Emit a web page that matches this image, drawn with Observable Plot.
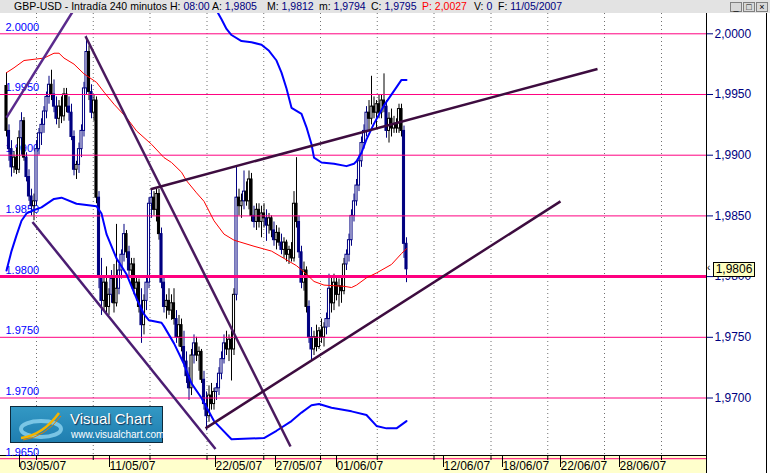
<!DOCTYPE html>
<html><head><meta charset="utf-8">
<script src="https://cdn.jsdelivr.net/npm/d3@7"></script>
<script src="https://cdn.jsdelivr.net/npm/@observablehq/plot@0.6"></script>
<style>
body{margin:0;background:#fff;}
#wrap{position:relative;width:770px;height:473px;overflow:hidden;background:#fff;font-family:"Liberation Sans",Arial,sans-serif;}
#hdr{position:absolute;left:0;top:0;width:770px;height:13px;background:#e3e3e3;font-size:10.5px;line-height:12px;white-space:pre;}
#hdr span{position:absolute;top:0;}
#hdr i{font-style:normal;color:#000080;}
#hdr .r{color:#ff0000;}
.btn{position:absolute;top:2px;width:10px;height:8px;border:1px solid #808080;background:#d8d8d8;font-size:9px;line-height:8px;text-align:center;color:#000;}
#strip{position:absolute;left:0;top:455px;width:706px;height:18px;background:#ffffcc;border-top:1px solid #000;box-sizing:border-box;}
#vline1{position:absolute;left:706px;top:13px;width:1px;height:460px;background:#000;}
#vline2{position:absolute;left:766px;top:13px;width:1px;height:460px;background:#000;}
#chart{position:absolute;left:0;top:13px;}
#pbox{position:absolute;left:713px;width:40px;height:13px;background:#ffffc0;border:1px solid #000;font-size:12px;line-height:13px;text-align:center;color:#000;}
#parrow{position:absolute;left:707px;font-size:10px;line-height:10px;color:#000;}
#logo{position:absolute;left:10px;top:406px;width:151px;height:35px;border:1px solid #0d2a3c;background:linear-gradient(#3398c4,#1f7eb0);color:#fff;}
#logo .a{position:absolute;left:59px;top:4px;font-size:15px;line-height:16px;text-shadow:1px 1px 1px #135;}
#logo .b{position:absolute;left:60px;top:22px;font-size:10px;line-height:11px;}
</style>
</head><body>
<div id="wrap">
  <div id="hdr">
    <span style="left:14px">GBP-USD - Intradía 240 minutos</span>
    <span style="left:170px">H: <i>08:00</i></span>
    <span style="left:212px">A: <i>1,9805</i></span>
    <span style="left:267px">M: <i>1,9812</i></span>
    <span style="left:319px">m: <i>1,9794</i></span>
    <span style="left:371px">C: <i>1,9795</i></span>
    <span class="r" style="left:422px">P: 2,0027</span>
    <span style="left:474px">V: <i>0</i></span>
    <span style="left:498px">F: <i>11/05/2007</i></span>
    <div class="btn" style="left:730px">_</div><div class="btn" style="left:743px">□</div><div class="btn" style="left:756px">×</div>
  </div>
  <div id="strip"></div>
  <div id="chart"></div>
  <div id="vline1"></div><div id="vline2"></div>
  <div id="logo">
    <svg width="58" height="35" style="position:absolute;left:2px;top:0">
      <ellipse cx="28" cy="22" rx="20" ry="8" fill="none" stroke="#8fd4f0" stroke-width="4" opacity="0.8"/>
      <path d="M8 31 Q30 28 46 6" fill="none" stroke="#f4b400" stroke-width="2.5"/>
      <path d="M10 33 Q32 30 48 9" fill="none" stroke="#e08000" stroke-width="1"/>
    </svg>
    <div class="a">Visual Chart</div>
    <div class="b">www.visualchart.com</div>
  </div>
</div>
<script>
// ---- data ----
const open = [1.9957,1.9920,1.9905,1.9890,1.9898,1.9888,1.9914,1.9928,1.9898,1.9882,1.9866,1.9858,1.9862,1.9905,1.9918,1.9925,1.9936,1.9948,1.9958,1.9950,1.9940,1.9930,1.9940,1.9932,1.9950,1.9940,1.9935,1.9915,1.9888,1.9892,1.9905,1.9920,1.9955,1.9985,1.9952,1.9935,1.9945,1.9865,1.9800,1.9780,1.9795,1.9775,1.9785,1.9798,1.9778,1.9790,1.9805,1.9818,1.9835,1.9820,1.9805,1.9810,1.9790,1.9795,1.9775,1.9760,1.9780,1.9795,1.9860,1.9865,1.9855,1.9868,1.9835,1.9795,1.9775,1.9780,1.9772,1.9778,1.9765,1.9750,1.9760,1.9742,1.9730,1.9718,1.9708,1.9735,1.9745,1.9735,1.9738,1.9715,1.9695,1.9685,1.9702,1.9695,1.9705,1.9708,1.9720,1.9732,1.9745,1.9740,1.9748,1.9740,1.9785,1.9865,1.9858,1.9862,1.9870,1.9862,1.9880,1.9850,1.9845,1.9855,1.9845,1.9852,1.9848,1.9842,1.9848,1.9838,1.9830,1.9836,1.9828,1.9822,1.9828,1.9818,1.9822,1.9815,1.9860,1.9845,1.9820,1.9795,1.9805,1.9775,1.9750,1.9740,1.9750,1.9742,1.9755,1.9750,1.9758,1.9765,1.9790,1.9778,1.9795,1.9785,1.9792,1.9788,1.9810,1.9818,1.9830,1.9850,1.9862,1.9875,1.9895,1.9910,1.9920,1.9935,1.9930,1.9940,1.9935,1.9942,1.9935,1.9945,1.9940,1.9920,1.9930,1.9922,1.9925,1.9922,1.9938,1.9920,1.9827];
const high = [1.9968,1.9925,1.9912,1.9903,1.9906,1.9920,1.9935,1.9931,1.9902,1.9888,1.9872,1.9868,1.9912,1.9922,1.9930,1.9940,1.9952,1.9965,1.9970,1.9962,1.9948,1.9945,1.9948,1.9955,1.9955,1.9948,1.9942,1.9920,1.9895,1.9910,1.9925,1.9960,1.9998,1.9990,1.9958,1.9950,1.9948,1.9870,1.9815,1.9800,1.9808,1.9790,1.9805,1.9810,1.9843,1.9810,1.9822,1.9843,1.9838,1.9825,1.9815,1.9815,1.9800,1.9798,1.9790,1.9785,1.9800,1.9865,1.9872,1.9870,1.9872,1.9872,1.9840,1.9800,1.9785,1.9790,1.9785,1.9790,1.9772,1.9768,1.9765,1.9755,1.9738,1.9725,1.9740,1.9752,1.9750,1.9742,1.9740,1.9722,1.9705,1.9710,1.9712,1.9708,1.9712,1.9725,1.9738,1.9752,1.9755,1.9752,1.9755,1.9790,1.9891,1.9872,1.9868,1.9887,1.9878,1.9887,1.9885,1.9858,1.9860,1.9860,1.9858,1.9860,1.9855,1.9852,1.9850,1.9845,1.9842,1.9840,1.9835,1.9832,1.9830,1.9825,1.9828,1.9870,1.9898,1.9850,1.9825,1.9812,1.9808,1.9780,1.9758,1.9755,1.9760,1.9758,1.9765,1.9762,1.9770,1.9802,1.9800,1.9802,1.9800,1.9798,1.9800,1.9815,1.9822,1.9835,1.9855,1.9868,1.9880,1.9900,1.9915,1.9925,1.9940,1.9945,1.9965,1.9948,1.9945,1.9950,1.9950,1.9967,1.9945,1.9935,1.9938,1.9932,1.9930,1.9942,1.9942,1.9924,1.9832];
const low = [1.9915,1.9895,1.9882,1.9885,1.9884,1.9885,1.9900,1.9895,1.9878,1.9862,1.9850,1.9846,1.9858,1.9900,1.9908,1.9918,1.9930,1.9942,1.9945,1.9935,1.9925,1.9922,1.9926,1.9928,1.9935,1.9928,1.9912,1.9883,1.9880,1.9885,1.9898,1.9915,1.9950,1.9945,1.9930,1.9928,1.9860,1.9790,1.9768,1.9772,1.9768,1.9768,1.9778,1.9770,1.9775,1.9785,1.9798,1.9812,1.9815,1.9800,1.9790,1.9785,1.9780,1.9770,1.9745,1.9752,1.9772,1.9790,1.9848,1.9850,1.9845,1.9830,1.9790,1.9770,1.9765,1.9768,1.9764,1.9760,1.9745,1.9742,1.9738,1.9725,1.9712,1.9698,1.9702,1.9728,1.9730,1.9722,1.9712,1.9690,1.9673,1.9680,1.9690,1.9690,1.9698,1.9702,1.9715,1.9728,1.9735,1.9730,1.9714,1.9735,1.9780,1.9850,1.9848,1.9855,1.9858,1.9855,1.9845,1.9840,1.9838,1.9840,1.9832,1.9840,1.9829,1.9835,1.9832,1.9825,1.9822,1.9825,1.9818,1.9815,1.9812,1.9810,1.9812,1.9812,1.9840,1.9815,1.9790,1.9788,1.9770,1.9745,1.9731,1.9735,1.9738,1.9740,1.9745,1.9742,1.9752,1.9758,1.9770,1.9772,1.9780,1.9775,1.9778,1.9785,1.9805,1.9812,1.9825,1.9845,1.9858,1.9870,1.9890,1.9905,1.9915,1.9920,1.9925,1.9930,1.9922,1.9930,1.9930,1.9935,1.9914,1.9910,1.9915,1.9918,1.9918,1.9918,1.9915,1.9815,1.9795];
const close = [1.9920,1.9905,1.9890,1.9898,1.9888,1.9914,1.9928,1.9898,1.9882,1.9866,1.9858,1.9862,1.9905,1.9918,1.9925,1.9936,1.9948,1.9958,1.9950,1.9940,1.9930,1.9940,1.9932,1.9950,1.9940,1.9935,1.9915,1.9888,1.9892,1.9905,1.9920,1.9955,1.9985,1.9952,1.9935,1.9945,1.9865,1.9800,1.9780,1.9795,1.9775,1.9785,1.9798,1.9778,1.9790,1.9805,1.9818,1.9835,1.9820,1.9805,1.9810,1.9790,1.9795,1.9775,1.9760,1.9780,1.9795,1.9860,1.9865,1.9855,1.9868,1.9835,1.9795,1.9775,1.9780,1.9772,1.9778,1.9765,1.9750,1.9760,1.9742,1.9730,1.9718,1.9708,1.9735,1.9745,1.9735,1.9738,1.9715,1.9695,1.9685,1.9702,1.9695,1.9705,1.9708,1.9720,1.9732,1.9745,1.9740,1.9748,1.9740,1.9785,1.9865,1.9858,1.9862,1.9870,1.9862,1.9880,1.9850,1.9845,1.9855,1.9845,1.9852,1.9848,1.9842,1.9848,1.9838,1.9830,1.9836,1.9828,1.9822,1.9828,1.9818,1.9822,1.9815,1.9860,1.9845,1.9820,1.9795,1.9805,1.9775,1.9750,1.9740,1.9750,1.9742,1.9755,1.9750,1.9758,1.9765,1.9790,1.9778,1.9795,1.9785,1.9792,1.9788,1.9810,1.9818,1.9830,1.9850,1.9862,1.9875,1.9895,1.9910,1.9920,1.9935,1.9930,1.9940,1.9935,1.9942,1.9935,1.9945,1.9940,1.9920,1.9930,1.9922,1.9925,1.9922,1.9938,1.9920,1.9827,1.9806];

const upperBars = [83,86,88,90,94,98,102,105,108,110,112,114,118,120,122,123,126,131,136,139,140,142,144,147,151,155,158,160];
const upperVals = [2.0023,2.0012,2.0004,1.9999,1.9994,1.9993,1.9991,1.9986,1.9978,1.9968,1.9955,1.9939,1.9934,1.9923,1.9909,1.9898,1.9894,1.9893,1.9891,1.9893,1.9895,1.9902,1.9913,1.9926,1.9941,1.9953,1.9962,1.9962];
const lowerBars = [0,2,4,6,8,10,14,19,22,28,36,38,40,44,48,52,55,57,62,63,67,71,74,78,83,90,103,108,114,118,122,125,130,138,144,148,152,156,160];
const lowerVals = [1.9805,1.9821,1.9834,1.9846,1.9852,1.9854,1.9857,1.9864,1.9865,1.9860,1.9858,1.9852,1.9835,1.9815,1.9802,1.9782,1.9769,1.9764,1.9762,1.9759,1.9745,1.9728,1.9712,1.9700,1.9681,1.9666,1.9667,1.9673,1.9681,1.9688,1.9694,1.9695,1.9692,1.9689,1.9686,1.9677,1.9675,1.9675,1.9681];
const maBars = [0,3,7,11,15,19,21,23,27,31,36,39,43,48,52,58,63,66,70,72,76,79,83,87,91,99,106,111,116,120,123,127,135,138,140,144,148,154,158,160];
const maVals = [1.9968,1.9972,1.9978,1.9979,1.9980,1.9984,1.9984,1.9980,1.9975,1.9967,1.9960,1.9952,1.9942,1.9931,1.9920,1.9909,1.9898,1.9894,1.9886,1.9879,1.9869,1.9862,1.9846,1.9835,1.9830,1.9825,1.9821,1.9815,1.9809,1.9802,1.9796,1.9793,1.9792,1.9791,1.9793,1.9799,1.9803,1.9810,1.9819,1.9823];

const trendFromBar = [0, 31.6, 10.4, 57.6, 79.6];
const trendFromPrice = [1.9931, 1.9998, 1.9845, 1.9872, 1.9675];
const trendToBar = [26.4, 113.6, 83.6, 236.4, 221.6];
const trendToPrice = [2.0018, 1.9660, 1.9658, 1.9971, 1.9862];
const trendColors = ["#5a2a8c", "#4a1a5e", "#4b1d72", "#3d0c3f", "#3d0c3f"];

const levels = [2.0, 1.995, 1.99, 1.985, 1.98, 1.975, 1.97, 1.965];
const rightTicks = [2.0, 1.995, 1.99, 1.985, 1.98, 1.975, 1.97];
const dateLabels = ["03/05/07","11/05/07","22/05/07","27/05/07","01/06/07","12/06/07","18/06/07","22/06/07","28/06/07"];
const dateTickBars = [4.4, 40.4, 82.8, 106.8, 131.2, 174, 197.6, 220.8, 244.4];
const gridBars = [12, 34.7, 57.4, 80.2, 102.9, 125.6, 148.3, 171, 193.8, 216.5, 239.2, 262];

// ---- build ----
const NAVY = "#000080", BLACK = "#000000";
const bars = close.map((c, i) => ({i, o: open[i], h: high[i], l: low[i], c, up: c >= open[i]}));
bars.forEach((b, k) => { b.col = (k > 0 && b.up === bars[k-1].up) ? NAVY : BLACK; });
const upper = upperBars.map((b, k) => ({b, v: upperVals[k]}));
const lower = lowerBars.map((b, k) => ({b, v: lowerVals[k]}));
const ma = maBars.map((b, k) => ({b, v: maVals[k]}));
const trends = trendFromBar.map((b, k) => ({x1: b, y1: trendFromPrice[k], x2: trendToBar[k], y2: trendToPrice[k], col: trendColors[k]}));
const labelMap = new Map(dateTickBars.map((d, k) => [d, dateLabels[k]]));
const fmtDot = d3.format(".4f");
const fmtComma = d => fmtDot(d).replace(".", ",");

const plot = Plot.plot({
  width: 770, height: 460,
  marginTop: 0, marginBottom: 18, marginLeft: 0, marginRight: 64,
  x: {domain: [-2.4, 280], axis: null},
  y: {domain: [1.965264, 2.001672], axis: null},
  style: {background: "transparent", fontFamily: "'Liberation Sans', Arial, sans-serif", fontSize: "12px"},
  marks: [
    Plot.ruleX(gridBars, {x: d => d, stroke: "#707070", strokeDasharray: "1,3"}),
    Plot.text(levels, {y: d => d, frameAnchor: "left", dx: 5, dy: -3, textAnchor: "start", lineAnchor: "bottom", text: fmtDot, fill: "#0000ff", fontSize: 11}),
    Plot.ruleX(bars, {x: "i", y1: "l", y2: "h", stroke: "col", strokeWidth: 1}),
    Plot.rect(bars, {x1: d => d.i - 0.42, x2: d => d.i + 0.42, y1: "o", y2: "c", fill: d => d.up ? "#ffffff" : d.col, stroke: "col", strokeWidth: 1}),
    Plot.ruleY(levels, {y: d => d, stroke: "#ff0080", strokeWidth: d => d === 1.98 ? 3 : 1}),
    Plot.line(ma, {x: "b", y: "v", stroke: "#ff0000", strokeWidth: 1, clip: "frame"}),
    Plot.line(upper, {x: "b", y: "v", stroke: "#0000ff", strokeWidth: 2, clip: "frame"}),
    Plot.line(lower, {x: "b", y: "v", stroke: "#0000ff", strokeWidth: 2, clip: "frame"}),
    Plot.link(trends, {x1: "x1", y1: "y1", x2: "x2", y2: "y2", stroke: "col", strokeWidth: 2.5, clip: "frame"}),
    Plot.axisY(rightTicks, {anchor: "right", tickSize: 6, tickPadding: 2, tickFormat: fmtComma, color: NAVY, fontSize: 12}),
    Plot.axisX(gridBars, {anchor: "bottom", tickSize: 5, tickFormat: () => "", color: BLACK}),
    Plot.axisX(dateTickBars, {anchor: "bottom", tickSize: 12, tickPadding: -6, textAnchor: "start", dx: 2, tickFormat: d => labelMap.get(d), color: BLACK, fontSize: 12})
  ]
});
document.getElementById("chart").appendChild(plot);

// last price tag on the right axis
const lastY = plot.scale("y").apply(close[close.length - 1]) + 13;
const wrap = document.getElementById("wrap");
const box = document.createElement("div");
box.id = "pbox"; box.textContent = fmtComma(close[close.length - 1]);
box.style.top = (lastY - 7) + "px";
wrap.appendChild(box);
const arr = document.createElement("div");
arr.id = "parrow"; arr.textContent = "‹";
arr.style.top = (lastY - 6) + "px";
wrap.appendChild(arr);
</script>
</body></html>
